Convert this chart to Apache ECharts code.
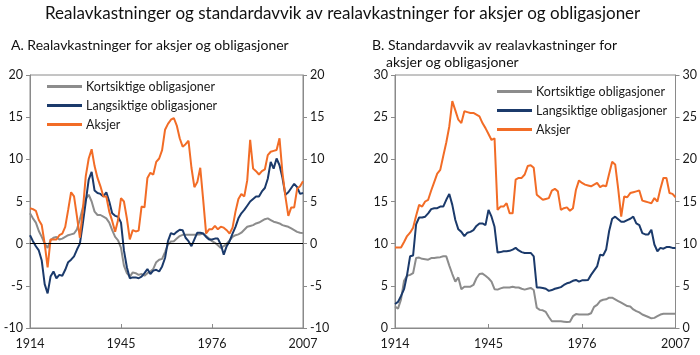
<!DOCTYPE html>
<html><head><meta charset="utf-8">
<script src="https://cdn.jsdelivr.net/npm/echarts@6/dist/echarts.min.js"></script>
<style>html,body{margin:0;padding:0;background:#fff}#c{width:700px;height:355px}</style>
</head><body><div id="c"></div>
<script>
const years = [];
for (let y = 1914; y <= 2007; y++) years.push(String(y));

const seriesNames = ['Kortsiktige obligasjoner', 'Langsiktige obligasjoner', 'Aksjer'];

// Panel A: real returns (%), 1914-2007
const kortA = [
  3.6, 3.0, 2.5, 1.5, 0.8, 0.0, -0.5, 0.4, 0.7, 0.8,
  0.5, 0.6, 0.8, 1.0, 1.1, 1.2, 1.7, 2.9, 4.3, 5.3,
  5.8, 5.0, 3.8, 3.4, 3.4, 3.2, 3.0, 2.5, 1.6, 0.8,
  0.4, -0.5, -2.6, -3.5, -3.9, -3.4, -3.5, -3.7, -3.6, -3.8,
  -3.5, -3.3, -3.0, -2.2, -1.9, -1.8, -1.0, -0.1, 0.25, 0.3,
  0.6, 0.9, 1.05, 1.05, 1.05, 1.05, 1.05, 1.1, 1.1, 1.2,
  0.9, 0.6, 0.3, 0.1, -0.2, -0.5, -0.3, 0.0, 0.4, 0.8,
  1.0, 1.1, 1.3, 1.65, 2.0, 2.1, 2.2, 2.4, 2.5, 2.7,
  2.9, 3.0, 2.8, 2.6, 2.5, 2.4, 2.2, 2.1, 2.0, 1.8,
  1.6, 1.4, 1.3, 1.25
];
const langA = [
  1.0, 0.3, -0.3, -0.8, -2.0, -4.8, -5.9, -3.9, -3.3, -4.1,
  -3.7, -3.8, -3.1, -2.2, -1.9, -1.5, -0.7, 0.0, 2.4, 5.0,
  7.6, 8.5, 6.3, 6.0, 5.9, 5.6, 6.1, 5.0, 3.6, 3.3,
  3.2, 2.5, -0.8, -2.8, -4.1, -4.0, -4.0, -4.1, -3.9, -3.5,
  -3.0, -3.6, -3.2, -3.1, -3.3, -2.7, -1.7, 0.3, 1.25, 1.1,
  1.4, 1.65, 1.6, 0.7, 0.3, -0.3, 0.5, 1.3, 1.3, 1.2,
  0.8, 0.5, 0.5, 0.6, 0.6, -0.1, -1.3, -0.3, 0.3, 1.2,
  2.0, 3.0, 3.6, 4.0, 4.5, 5.0, 5.3, 5.6, 5.6, 6.2,
  6.6, 7.7, 9.7, 8.9, 10.1, 9.3, 7.8, 5.8, 6.1, 6.6,
  7.1, 6.7, 5.9, 6.0
];
const aksjerA = [
  4.2, 4.1, 3.9, 2.8, 2.2, 0.0, -2.8, 0.5, 0.5, 0.5,
  1.0, 1.2, 2.0, 4.0, 6.1, 5.6, 3.2, 0.7, 4.0, 8.0,
  10.1, 11.2, 9.2, 7.8, 6.8, 5.6, 5.6, 3.8, 2.7, 1.4,
  2.8, 5.4, 5.0, 3.0, 0.5, 1.6, 1.45, 1.55, 4.4, 4.3,
  7.8, 8.4, 8.2, 9.7, 10.1, 11.1, 13.5, 14.2, 14.7, 14.9,
  14.0, 12.5, 11.5, 11.8, 12.2, 9.0, 6.7, 7.3, 9.0, 5.2,
  1.2, 1.7, 1.7, 2.1, 1.7, 2.0, 1.9, 1.6, 1.2, 1.9,
  3.8, 5.3, 5.9, 5.6, 7.5, 12.3, 8.9, 8.6, 8.2, 8.6,
  8.8, 10.5, 10.9, 11.0, 11.1, 12.5, 8.4, 5.6, 3.3, 4.3,
  4.3, 6.5, 6.8, 7.4
];

// Panel B: standard deviation of real returns, 1914-2007
const kortB = [
  2.55, 2.3, 3.4, 5.6, 6.2, 6.3, 6.5, 8.3, 8.35, 8.2,
  8.15, 8.1, 8.3, 8.3, 8.35, 8.4, 8.5, 8.5, 7.4, 6.4,
  5.5, 6.0, 4.6, 4.9, 4.9, 4.9, 5.1, 5.9, 6.4, 6.45,
  6.2, 5.9, 5.5, 4.6, 4.55, 4.7, 4.8, 4.8, 4.8, 4.9,
  4.8, 4.8, 4.65, 4.55, 4.65, 4.75, 4.5, 2.4, 2.15, 2.1,
  1.9, 1.3, 0.8, 0.8, 0.8, 0.8, 0.75, 0.7, 0.75, 1.4,
  1.65, 1.6, 1.6, 1.6, 1.6, 1.75, 2.5, 2.75, 3.2, 3.35,
  3.4, 3.6, 3.6, 3.4, 3.2, 3.0, 2.8, 2.6, 2.55, 2.2,
  2.0, 1.85, 1.6, 1.45, 1.3, 1.15, 1.2, 1.4, 1.6, 1.7,
  1.7, 1.7, 1.7, 1.7
];
const langB = [
  2.85, 3.1, 3.8, 4.6, 6.3, 8.5, 8.6, 12.3, 13.1, 13.1,
  13.2, 13.6, 14.1, 14.2, 14.2, 14.4, 14.4, 15.2, 15.9, 14.6,
  12.8, 11.7, 11.4, 10.9, 11.3, 11.4, 11.6, 12.1, 12.4, 12.4,
  12.2, 14.0, 13.2, 12.0, 8.95, 9.0, 9.1, 9.1, 9.15, 9.3,
  9.5, 9.2, 9.0, 8.9, 8.9, 8.9, 8.5, 4.8, 4.8, 4.75,
  4.65, 4.4, 4.5, 4.65, 4.75, 4.85, 5.1, 5.3, 5.4, 5.6,
  5.7, 5.5, 5.65, 5.65, 5.7, 6.3, 6.8, 7.3, 8.7, 8.6,
  9.3, 11.5, 12.95, 13.2, 12.9, 12.6, 12.6, 12.8, 12.95, 13.2,
  12.4, 12.2, 11.25, 11.1, 11.1, 11.65, 9.9, 9.1, 9.5, 9.4,
  9.6, 9.6, 9.5, 9.5
];
const aksjerB = [
  9.55, 9.55, 9.55, 10.2, 10.9, 11.3, 11.9, 13.3, 14.6, 14.4,
  15.0, 15.2, 16.3, 17.3, 18.3, 18.75, 20.4, 22.0, 23.9, 26.9,
  25.8, 24.7, 24.3, 25.7, 25.6, 25.5, 25.5, 25.3, 25.1, 24.3,
  23.7, 23.0, 22.3, 22.5, 14.0, 14.4, 14.4, 14.8, 13.6, 13.6,
  17.6, 17.8, 17.8, 18.2, 19.2, 19.3, 19.0, 15.8, 15.5, 15.2,
  15.3, 15.4, 16.3, 16.5, 16.2, 14.0, 14.2, 14.3, 13.9, 14.2,
  16.4, 17.5, 17.2, 17.0, 16.9, 16.8, 17.0, 17.2, 16.7, 16.9,
  16.8, 18.3, 19.7, 19.4, 16.5, 13.2, 15.6, 15.5, 16.0, 16.1,
  16.2, 16.3, 15.1, 15.0, 14.9, 14.8, 15.4, 15.0, 16.5, 17.8,
  17.8, 16.0, 15.9, 15.5
];

const FONT = 'Lato';
const colors = ['#8c8c8c', '#1b3a6b', '#f26c26'];
const axisGray = '#8a8a8a';
const labelColor = '#1a1a1a';

function xAxis(gi) {
  return {
    gridIndex: gi, type: 'category', data: years, boundaryGap: false,
    axisLine: { onZero: false, lineStyle: { color: axisGray, width: 1 } },
    axisTick: { inside: true, length: 4, interval: 30, lineStyle: { color: axisGray } },
    axisLabel: { interval: 30, color: labelColor, fontFamily: FONT, fontSize: 12.5, margin: 9 },
    splitLine: { show: false }
  };
}
function yAxis(gi, pos, min, max) {
  return {
    gridIndex: gi, type: 'value', position: pos, min: min, max: max, interval: 5,
    axisLine: { show: true, lineStyle: { color: axisGray, width: 1 } },
    axisTick: { show: true, length: 4, lineStyle: { color: axisGray } },
    axisLabel: { color: labelColor, fontFamily: FONT, fontSize: 12.5, margin: 7 },
    splitLine: { show: false }
  };
}
function line(name, data, xi, yi, color, extra) {
  return Object.assign({
    name: name, type: 'line', xAxisIndex: xi, yAxisIndex: yi, data: data,
    symbol: 'none', lineStyle: { color: color, width: 2 }, itemStyle: { color: color },
    animation: false
  }, extra || {});
}
function legend(left, top) {
  return {
    left: left, top: top, orient: 'vertical', icon: 'rect', itemWidth: 35, itemHeight: 3,
    itemGap: 6, data: seriesNames, padding: 0,
    textStyle: { fontFamily: FONT, fontSize: 12.5, color: labelColor, padding: [0, 0, 0, -1] }
  };
}

const chart = echarts.init(document.getElementById('c'), null, { renderer: 'canvas' });
chart.setOption({
  animation: false,
  backgroundColor: '#fff',
  title: [
    { text: 'Realavkastninger og standardavvik av realavkastninger for aksjer og obligasjoner',
      left: 40, top: 0, textStyle: { fontFamily: FONT, fontSize: 17, fontWeight: 'normal', color: '#111' } },
    { text: 'A. Realavkastninger for aksjer og obligasjoner',
      left: 6, top: 33, textStyle: { fontFamily: FONT, fontSize: 14, fontWeight: 'normal', color: '#111' } },
    { text: 'B. Standardavvik av realavkastninger for',
      left: 367, top: 33, textStyle: { fontFamily: FONT, fontSize: 14, fontWeight: 'normal', color: '#111' } },
    { text: 'aksjer og obligasjoner',
      left: 381, top: 50, textStyle: { fontFamily: FONT, fontSize: 14, fontWeight: 'normal', color: '#111' } }
  ],
  legend: [legend(47, 80), legend(497, 85)],
  grid: [
    { left: 30, top: 75, width: 273, height: 253, show: true, borderColor: axisGray, borderWidth: 1, backgroundColor: 'transparent' },
    { left: 395, top: 75, width: 283, height: 253, show: true, borderColor: axisGray, borderWidth: 1, backgroundColor: 'transparent' }
  ],
  xAxis: [xAxis(0), xAxis(1)],
  yAxis: [yAxis(0, 'left', -10, 20), yAxis(0, 'right', -10, 20), yAxis(1, 'left', 0, 30), yAxis(1, 'right', 0, 30)],
  series: [
    line(seriesNames[0], kortA, 0, 0, colors[0], {
      markLine: { silent: true, symbol: 'none', label: { show: false },
        lineStyle: { color: '#000', width: 1, type: 'solid' }, data: [{ yAxis: 0 }] }
    }),
    line(seriesNames[1], langA, 0, 0, colors[1]),
    line(seriesNames[2], aksjerA, 0, 0, colors[2]),
    line(seriesNames[0], kortB, 1, 2, colors[0]),
    line(seriesNames[1], langB, 1, 2, colors[1]),
    line(seriesNames[2], aksjerB, 1, 2, colors[2])
  ]
});
</script></body></html>
